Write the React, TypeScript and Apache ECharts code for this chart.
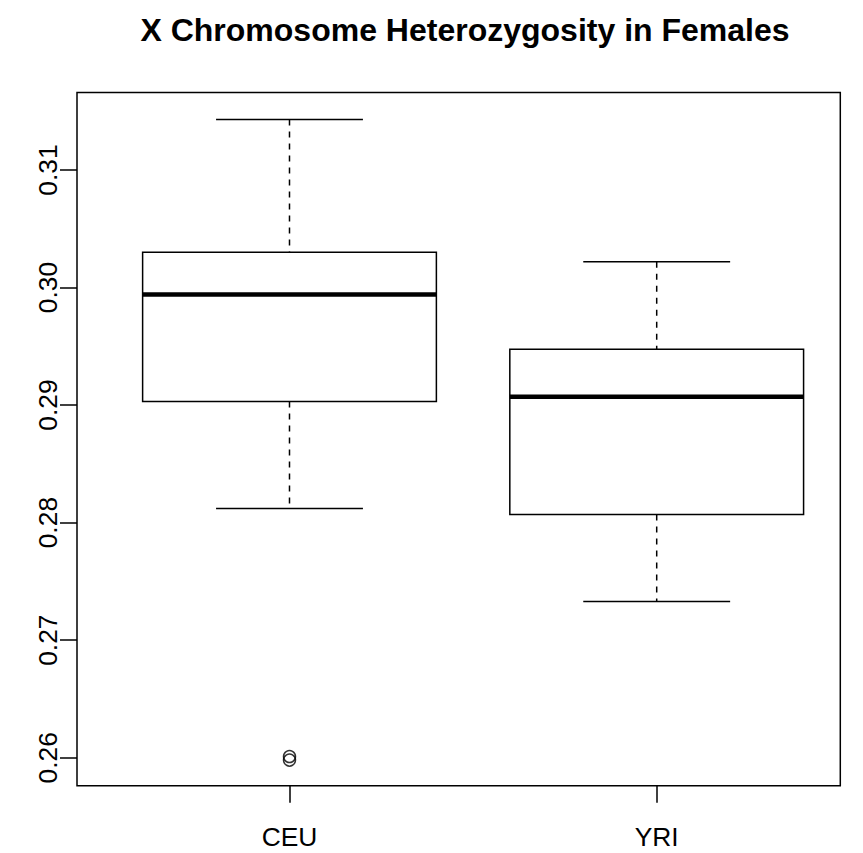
import React, { useEffect, useRef } from "react";
import * as echarts from "echarts";

const categories = ["CEU", "YRI"];
const positions = [1, 2];
const whiskerLow = [0.2812, 0.2733];
const quartile1 = [0.2903, 0.2807];
const medians = [0.2994, 0.2907];
const quartile3 = [0.303, 0.29475];
const whiskerHigh = [0.3143, 0.3022];
const outlierGroup = [1, 1];
const outlierValues = [0.2601, 0.2598];
const yTicks = [0.26, 0.27, 0.28, 0.29, 0.3, 0.31];

const FONT = "'Liberation Sans', Arial, Helvetica, sans-serif";

export default function App() {
  const ref = useRef<HTMLDivElement>(null);
  useEffect(() => {
    if (!ref.current) return;
    const chart = echarts.init(ref.current, null, { renderer: "svg" });
    const boxData = positions.map((p, i) => [
      p,
      whiskerLow[i],
      quartile1[i],
      medians[i],
      quartile3[i],
      whiskerHigh[i],
    ]);
    const outData = outlierGroup.map((g, i) => [g, outlierValues[i]]);
    const dashed = { stroke: "#000", lineWidth: 1.5, lineDash: [6, 6] };
    const solid = { stroke: "#000", lineWidth: 1.5 };
    chart.setOption({
      animation: false,
      backgroundColor: "#fff",
      title: {
        text: "X Chromosome Heterozygosity in Females",
        left: 460,
        top: 9,
        textAlign: "center",
        textStyle: {
          fontFamily: FONT,
          fontWeight: "bold",
          fontSize: 32,
          color: "#000",
        },
      },
      grid: {
        left: 77,
        top: 92.5,
        width: 763.3,
        height: 693.2,
        show: true,
        borderColor: "#000",
        borderWidth: 1.5,
        backgroundColor: "transparent",
      },
      xAxis: {
        type: "value",
        min: 0.4213,
        max: 2.5,
        axisLine: { show: false },
        splitLine: { show: false },
        axisTick: {
          show: true,
          customValues: positions,
          length: 17,
          lineStyle: { color: "#000", width: 1.5 },
        },
        axisLabel: {
          customValues: positions,
          formatter: (v: number) => categories[Math.round(v) - 1] ?? "",
          fontFamily: FONT,
          fontSize: 26.4,
          color: "#000",
          margin: 38,
        },
      },
      yAxis: {
        type: "value",
        min: 0.25762,
        max: 0.31659,
        axisLine: { show: false },
        splitLine: { show: false },
        axisTick: {
          show: true,
          customValues: yTicks,
          length: 17,
          lineStyle: { color: "#000", width: 1.5 },
        },
        axisLabel: {
          customValues: yTicks,
          formatter: (v: number) => v.toFixed(2),
          rotate: 90,
          fontFamily: FONT,
          fontSize: 26.4,
          color: "#000",
          margin: 16,
        },
      },
      series: [
        {
          type: "custom",
          clip: false,
          data: boxData,
          encode: { x: 0, y: [1, 2, 3, 4, 5] },
          renderItem: (params: any, api: any) => {
            const x = api.value(0);
            const pLo = api.coord([x, api.value(1)]);
            const pQ1 = api.coord([x, api.value(2)]);
            const pMed = api.coord([x, api.value(3)]);
            const pQ3 = api.coord([x, api.value(4)]);
            const pHi = api.coord([x, api.value(5)]);
            const cx = pMed[0];
            const halfBox = api.size([0.4, 0])[0];
            const halfCap = api.size([0.2, 0])[0];
            return {
              type: "group",
              children: [
                { type: "line", shape: { x1: cx, y1: pHi[1], x2: cx, y2: pQ3[1] }, style: dashed },
                { type: "line", shape: { x1: cx, y1: pQ1[1], x2: cx, y2: pLo[1] }, style: dashed },
                { type: "line", shape: { x1: cx - halfCap, y1: pHi[1], x2: cx + halfCap, y2: pHi[1] }, style: solid },
                { type: "line", shape: { x1: cx - halfCap, y1: pLo[1], x2: cx + halfCap, y2: pLo[1] }, style: solid },
                {
                  type: "rect",
                  shape: { x: cx - halfBox, y: pQ3[1], width: 2 * halfBox, height: pQ1[1] - pQ3[1] },
                  style: { fill: "#fff", stroke: "#000", lineWidth: 1.5 },
                },
                {
                  type: "line",
                  shape: { x1: cx - halfBox, y1: pMed[1], x2: cx + halfBox, y2: pMed[1] },
                  style: { stroke: "#000", lineWidth: 4.5 },
                },
              ],
            };
          },
        },
        {
          type: "scatter",
          data: outData,
          symbol: "circle",
          symbolSize: 12,
          itemStyle: { color: "transparent", borderColor: "#000", borderWidth: 1.5 },
        },
      ],
    });
    return () => chart.dispose();
  }, []);
  return (
    <div
      ref={ref}
      style={{ position: "fixed", left: 0, top: 0, width: 863, height: 853 }}
    />
  );
}
